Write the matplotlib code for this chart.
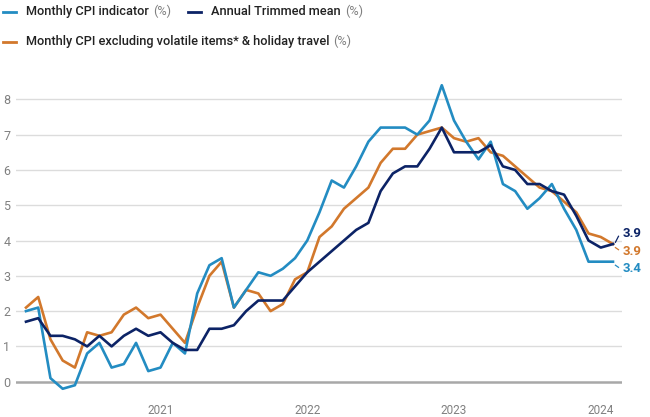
import numpy as np
import matplotlib
matplotlib.use('Agg')
from matplotlib import pyplot as plt
from matplotlib.lines import Line2D

plt.rcParams['font.family'] = ['Roboto', 'DejaVu Sans']

# monthly, Feb 2020 .. Feb 2024
start_year, start_month = 2020, 2
cpi = [2.0, 2.1, 0.1, -0.2, -0.1, 0.8, 1.1, 0.4, 0.5, 1.1, 0.3, 0.4,
       1.1, 0.8, 2.5, 3.3, 3.5, 2.1, 2.6, 3.1, 3.0, 3.2, 3.5, 4.0,
       4.8, 5.7, 5.5, 6.1, 6.8, 7.2, 7.2, 7.2, 7.0, 7.4, 8.4, 7.4,
       6.8, 6.3, 6.8, 5.6, 5.4, 4.9, 5.2, 5.6, 4.9, 4.3, 3.4, 3.4, 3.4]
excl_volatile = [2.1, 2.4, 1.2, 0.6, 0.4, 1.4, 1.3, 1.4, 1.9, 2.1, 1.8, 1.9,
                 1.5, 1.1, 2.1, 3.0, 3.4, 2.1, 2.6, 2.5, 2.0, 2.2, 2.9, 3.1,
                 4.1, 4.4, 4.9, 5.2, 5.5, 6.2, 6.6, 6.6, 7.0, 7.1, 7.2, 6.9,
                 6.8, 6.9, 6.5, 6.4, 6.1, 5.8, 5.5, 5.4, 5.1, 4.8, 4.2, 4.1, 3.9]
trimmed_mean = [1.7, 1.8, 1.3, 1.3, 1.2, 1.0, 1.3, 1.0, 1.3, 1.5, 1.3, 1.4,
                1.1, 0.9, 0.9, 1.5, 1.5, 1.6, 2.0, 2.3, 2.3, 2.3, 2.7, 3.1,
                3.4, 3.7, 4.0, 4.3, 4.5, 5.4, 5.9, 6.1, 6.1, 6.6, 7.2, 6.5,
                6.5, 6.5, 6.7, 6.1, 6.0, 5.6, 5.6, 5.4, 5.3, 4.7, 4.0, 3.8, 3.9]
years = [2021, 2022, 2023, 2024]

c_cpi = '#238cc2'
c_excl = '#d2782c'
c_tm = '#0c2366'

x = np.arange(len(cpi))
fig = plt.figure(figsize=(6.5, 4.17), dpi=100)
ax = fig.add_axes([0.0246, 0.0508, 0.9323, 0.7787])

ax.plot(x, excl_volatile, color=c_excl, lw=1.9)
ax.plot(x, cpi, color=c_cpi, lw=1.9)
ax.plot(x, trimmed_mean, color=c_tm, lw=1.9)

ax.set_xlim(-0.818, len(cpi) - 1 + 0.736)
ax.set_ylim(-0.4, 8.8)
ax.set_yticks(range(0, 9))
for v in range(1, 9):
    ax.axhline(v, color='#dcdcdc', lw=1.0, zorder=0)
ax.axhline(0, color='#a8a8a8', lw=1.8, zorder=0)

year_pos = [(y - start_year) * 12 + (1 - start_month) for y in years]
ax.set_xticks(year_pos)
ax.set_xticklabels([str(y) for y in years])
ax.tick_params(axis='x', length=0, pad=6, labelsize=8.5, labelcolor='#808080')
ax.tick_params(axis='y', length=0, pad=4, labelsize=9, labelcolor='#808080')
for s in ax.spines.values():
    s.set_visible(False)

# end labels with short leader ticks
last = len(cpi) - 1
for vals, col, ty, lead in [(trimmed_mean, c_tm, 4.2, (3.95, 4.12)),
                            (excl_volatile, c_excl, 3.7, (3.80, 3.74)),
                            (cpi, c_cpi, 3.2, (3.30, 3.24))]:
    ax.plot([last + 0.2, last + 0.45], list(lead), color=col, lw=0.9,
            clip_on=False)
    ax.text(last + 0.8, ty, f'{vals[-1]:.1f}', color=col, fontsize=9.5,
            fontweight='bold', va='center', ha='left', clip_on=False)

# legend
fig.canvas.draw()
renderer = fig.canvas.get_renderer()
W, H = fig.get_size_inches() * fig.dpi
items = [('Monthly CPI indicator', c_cpi, 3, 11.7),
         ('Annual Trimmed mean', c_tm, 188, 11.7),
         ('Monthly CPI excluding volatile items* & holiday travel', c_excl, 3, 41.7)]
for label, col, x0, y0 in items:
    yf = 1 - y0 / H
    fig.add_artist(Line2D([x0 / W, (x0 + 13) / W], [yf, yf], color=col, lw=2))
    t = fig.text((x0 + 23) / W, yf, label, fontsize=9.2, fontweight='medium',
                 color='#222222', va='center', ha='left')
    bb = t.get_window_extent(renderer)
    fig.text((bb.x1 + 4) / W, yf, '(%)', fontsize=9.2, color='#808080',
             va='center', ha='left')

fig.savefig('out.png', dpi=100)
